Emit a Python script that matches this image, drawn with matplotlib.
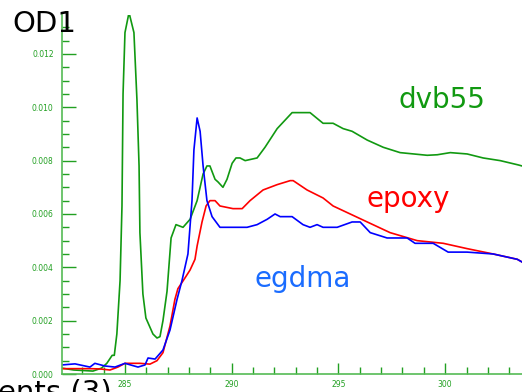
import matplotlib
matplotlib.use("Agg")
import matplotlib.pyplot as plt
from matplotlib.ticker import MultipleLocator, FormatStrFormatter

# photon energy (eV) and optical density
dvb55_e = [282.05, 282.6, 283.5, 283.9, 284.15, 284.4, 284.5, 284.62, 284.77, 284.86,
           284.91, 285.0, 285.19, 285.42, 285.56, 285.66, 285.7, 285.84, 285.98, 286.31,
           286.5, 286.64, 286.78, 286.97, 287.16, 287.39, 287.72, 288.05, 288.38, 288.66,
           288.84, 288.98, 289.22, 289.36, 289.59, 289.78, 290.02, 290.2, 290.39, 290.63,
           291.19, 291.56, 292.13, 292.83, 293.34, 293.67, 294.28, 294.75, 295.22, 295.64,
           296.35, 297.1, 297.89, 299.16, 299.63, 300.24, 301.03, 301.78, 302.58, 303.42, 303.6]
dvb55_od = [0.00022, 0.00015, 0.00011, 0.00022, 0.0004, 0.0007, 0.0007, 0.0015, 0.0035, 0.0063,
            0.0105, 0.0128, 0.01355, 0.0128, 0.0103, 0.0078, 0.0053, 0.0030, 0.0021, 0.0015,
            0.00135, 0.0014, 0.0020, 0.0031, 0.0051, 0.0056, 0.0055, 0.0058, 0.0065, 0.0075,
            0.0078, 0.0078, 0.0073, 0.0072, 0.0070, 0.0073, 0.0079, 0.0081, 0.0081, 0.0080,
            0.0081, 0.0085, 0.0092, 0.0098, 0.0098, 0.0098, 0.0094, 0.0094, 0.0092, 0.0091,
            0.00877, 0.0085, 0.0083, 0.0082, 0.00822, 0.0083, 0.00825, 0.0081, 0.0080, 0.00784, 0.0078]

egdma_e = [282.05, 282.66, 283.36, 283.59, 284.06, 284.53, 285.0, 285.61, 285.94, 286.08,
           286.41, 286.78, 287.11, 287.44, 287.67, 287.95, 288.14, 288.23, 288.38, 288.52,
           288.66, 288.84, 289.08, 289.45, 290.06, 290.72, 291.19, 291.66, 292.03, 292.27,
           292.83, 293.34, 293.67, 294.0, 294.28, 294.94, 295.64, 296.02, 296.49, 297.28,
           298.22, 298.59, 299.44, 300.14, 301.03, 302.25, 303.38, 303.6]
egdma_od = [0.00034, 0.00038, 0.00026, 0.0004, 0.0003, 0.00026, 0.0004, 0.00026, 0.00034, 0.0006,
            0.00056, 0.0009, 0.00165, 0.0028, 0.0035, 0.0045, 0.0065, 0.0084, 0.0096, 0.0091,
            0.0078, 0.0065, 0.0059, 0.0055, 0.0055, 0.0055, 0.0056, 0.0058, 0.0060, 0.0059,
            0.0059, 0.0056, 0.0055, 0.0056, 0.0055, 0.0055, 0.0057, 0.0057, 0.0053, 0.0051,
            0.0051, 0.0049, 0.0049, 0.00457, 0.00457, 0.0045, 0.0043, 0.0042]

epoxy_e = [282.05, 283.36, 283.83, 284.3, 284.67, 285.0, 285.7, 286.17, 286.5, 286.78,
           287.11, 287.34, 287.48, 287.81, 288.05, 288.28, 288.38, 288.61, 288.8, 288.98,
           289.22, 289.45, 290.06, 290.49, 290.86, 291.47, 292.13, 292.74, 292.88, 293.53,
           294.28, 294.75, 295.55, 296.35, 297.42, 298.69, 299.91, 301.03, 302.25, 303.38, 303.6]
epoxy_od = [0.0002, 0.0002, 0.00019, 0.00015, 0.00026, 0.0004, 0.0004, 0.00037, 0.0005, 0.0008,
            0.0018, 0.0028, 0.0032, 0.0036, 0.0039, 0.0043, 0.0048, 0.0057, 0.0063, 0.0065,
            0.0065, 0.0063, 0.0062, 0.0062, 0.0065, 0.0069, 0.0071, 0.00725, 0.00725, 0.0069,
            0.0066, 0.0063, 0.0060, 0.0057, 0.0053, 0.0050, 0.0049, 0.0047, 0.0045, 0.0043, 0.0042]

xticks = [285, 290, 295, 300]
yticks = [0.000, 0.002, 0.004, 0.006, 0.008, 0.010, 0.012]

W, H = 522, 392
fig = plt.figure(figsize=(W / 100, H / 100), dpi=100)
ax = fig.add_axes([62 / W, (H - 374) / H, (W - 62) / W, (374 - 15) / H])
ax.set_xlim(282.05, 303.6)
ax.set_ylim(0, 0.01346)

ax.plot(dvb55_e, dvb55_od, color="#119911", lw=1.2)
ax.plot(epoxy_e, epoxy_od, color="#ff0000", lw=1.2)
ax.plot(egdma_e, egdma_od, color="#0000ff", lw=1.2)

axis_green = "#55bb55"
tick_green = "#22a022"
for s in ["top", "right"]:
    ax.spines[s].set_visible(False)
for s in ["left", "bottom"]:
    ax.spines[s].set_color(axis_green)
    ax.spines[s].set_linewidth(1.2)

ax.set_xticks(xticks)
ax.set_yticks(yticks)
ax.xaxis.set_minor_locator(MultipleLocator(1))
ax.yaxis.set_minor_locator(MultipleLocator(0.0005))
ax.yaxis.set_major_formatter(FormatStrFormatter("%.3f"))
ax.tick_params(axis="both", which="both", direction="in", colors=tick_green,
               labelcolor=tick_green, labelsize=5.5, width=1)
ax.tick_params(axis="y", which="major", length=10, pad=6)
ax.tick_params(axis="y", which="minor", length=5)
ax.tick_params(axis="x", which="major", length=8, pad=4)
ax.tick_params(axis="x", which="minor", length=5)

fig.text(12 / W, 1 - 32 / H, "OD1", fontsize=21, color="black")
fig.text(-2 / W, 1 - 400 / H, "ents (3)", fontsize=21, color="black")
fig.text(398 / W, 1 - 108 / H, "dvb55", fontsize=20, color="#119911")
fig.text(366 / W, 1 - 207 / H, "epoxy", fontsize=20, color="#ff0000")
fig.text(255 / W, 1 - 287 / H, "egdma", fontsize=20, color="#1a6cff")

fig.savefig("out.png", dpi=100)
